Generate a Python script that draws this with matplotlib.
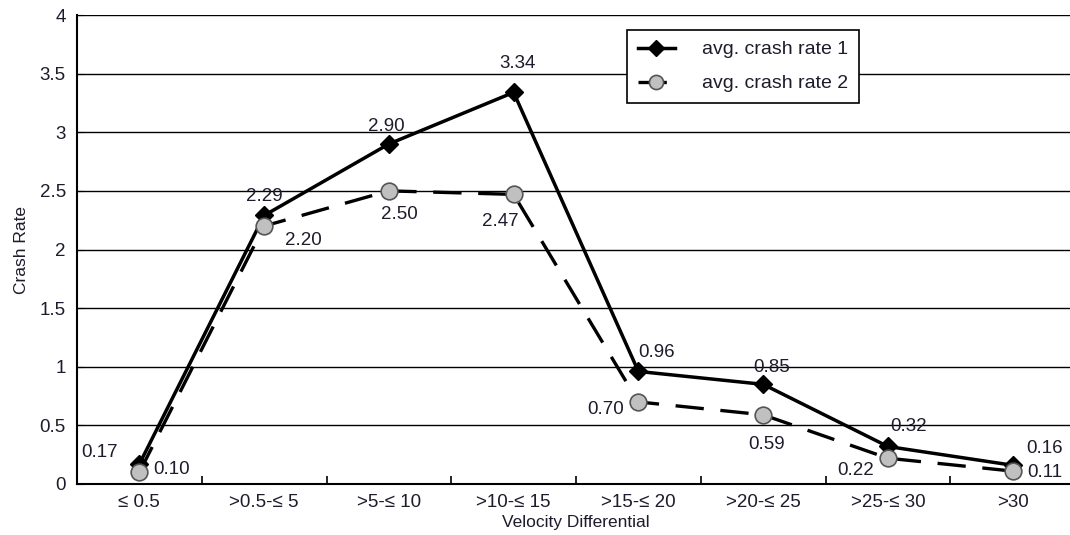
import matplotlib
matplotlib.use("Agg")
import matplotlib.pyplot as plt
from matplotlib.ticker import FixedLocator, NullFormatter

plt.rcParams['font.family'] = ['Liberation Sans', 'DejaVu Sans']

categories = ["\u2264 0.5", ">0.5-\u2264 5", ">5-\u2264 10", ">10-\u2264 15",
              ">15-\u2264 20", ">20-\u2264 25", ">25-\u2264 30", ">30"]
rate1 = [0.17, 2.29, 2.90, 3.34, 0.96, 0.85, 0.32, 0.16]
rate2 = [0.10, 2.20, 2.50, 2.47, 0.70, 0.59, 0.22, 0.11]
labels1 = ["0.17", "2.29", "2.90", "3.34", "0.96", "0.85", "0.32", "0.16"]
labels2 = ["0.10", "2.20", "2.50", "2.47", "0.70", "0.59", "0.22", "0.11"]
yticks = [0, 0.5, 1, 1.5, 2, 2.5, 3, 3.5, 4]
yticklabels = ['0', '0.5', '1', '1.5', '2', '2.5', '3', '3.5', '4']

off1 = [(-40, 12), (0, 19), (-3, 17), (4, 29), (18, 19), (9, 17), (21, 20), (32, 17)]
off2 = [(32, 3), (39, -14), (10, -24), (-13, -27), (-33, -8), (3, -30), (-32, -12), (32, -1)]

TXT = '#1c1c2c'
FS = 13.5

fig = plt.figure(figsize=(10.70, 5.35), dpi=100)
ax = fig.add_axes([77/1070, 1-484/535, (1075-77)/1070, (484-15)/535])

x = list(range(len(categories)))
ax.plot(x, rate1, color='black', lw=2.5, marker='D', markersize=9,
        markerfacecolor='black', markeredgecolor='black', label='avg. crash rate 1', zorder=4)
ax.plot(x, rate2, color='black', lw=2.4, ls=(0, (8.5, 5)), marker='o', markersize=12,
        markerfacecolor='#c0c0c0', markeredgecolor='#555555', markeredgewidth=1.2,
        label='avg. crash rate 2', zorder=5)

for xi, v, t, o in zip(x, rate1, labels1, off1):
    ax.annotate(t, (xi, v), xytext=o, textcoords='offset pixels',
                ha='center', va='center', fontsize=FS, color=TXT, zorder=6)
for xi, v, t, o in zip(x, rate2, labels2, off2):
    ax.annotate(t, (xi, v), xytext=o, textcoords='offset pixels',
                ha='center', va='center', fontsize=FS, color=TXT, zorder=6)

ax.set_xlim(-0.5, len(categories) - 0.5)
ax.set_ylim(0, 4)
ax.yaxis.set_major_locator(FixedLocator(yticks))
ax.set_yticklabels(yticklabels)
ax.grid(axis='y', color='black', lw=1.0)
ax.set_axisbelow(True)

ax.set_xticks(x)
ax.set_xticklabels(categories, fontsize=FS, color=TXT)
ax.tick_params(axis='x', which='major', length=0, pad=7)
ax.set_xticks([i + 0.5 for i in range(len(categories) - 1)], minor=True)
ax.xaxis.set_minor_formatter(NullFormatter())
ax.tick_params(axis='x', which='minor', direction='in', length=6, width=1.2, color='black')
ax.tick_params(axis='y', direction='in', length=4, labelsize=FS, labelcolor=TXT, pad=8)

for s in ['left', 'bottom']:
    ax.spines[s].set_linewidth(1.5)
ax.spines['top'].set_visible(False)
ax.spines['right'].set_visible(False)

ax.set_xlabel('Velocity Differential', fontsize=12.5, color=TXT, labelpad=3)
ax.set_ylabel('Crash Rate', fontsize=12.5, color=TXT, labelpad=8)

leg = ax.legend(loc='upper left', bbox_to_anchor=((627-77)/(1075-77), 1-(30-15)/(484-15)),
                fontsize=14, frameon=True, fancybox=False, edgecolor='black',
                framealpha=1, borderpad=0.55, borderaxespad=0, handlelength=1.9,
                handletextpad=1.4, labelspacing=0.85, markerscale=0.85)
leg.get_frame().set_linewidth(1.2)
for t in leg.get_texts():
    t.set_color(TXT)

fig.savefig('out.png', dpi=100)
